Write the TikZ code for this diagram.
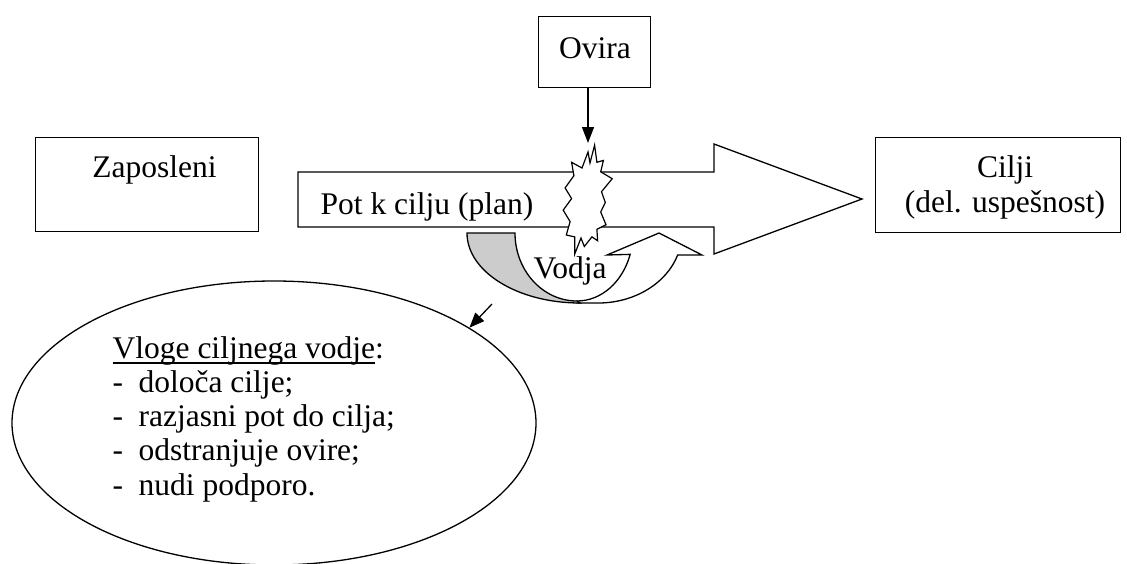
\documentclass[tikz,border=0pt]{standalone}
\usepackage{fontspec}
\setmainfont{Liberation Serif}
\usetikzlibrary{arrows.meta,shapes.geometric}
\definecolor{bandgrey}{RGB}{204,204,204}
% underline that runs through the descenders
\newcommand\roleul[1]{\leavevmode\setbox0\hbox{#1}\rlap{\rule[-5.5pt]{\wd0}{1.4pt}}\box0}
\begin{document}
\begin{tikzpicture}[x=1pt,y=1pt,
  line width=1.3pt,
  lbl/.style={font=\fontsize{31.5}{35}\selectfont, inner sep=0pt},
  box/.style={draw, inner sep=0pt, anchor=north west},
  arr/.style={-{Triangle[length=16pt,width=12pt]}},
]
\useasboundingbox (0,0) rectangle (1127,-563);

% boxes
\node[box, minimum width=223pt, minimum height=94pt] (zap) at (35,-137) {};
\node[lbl, anchor=base] (zaptxt) at (154.5,-177) {Zaposleni};

\node[box, minimum width=245pt, minimum height=95pt] (cilji) at (875,-137) {};
\node[lbl, anchor=base] (ciljitxt) at (1005,-177)
  {\parbox[t]{240pt}{\centering Cilji\\(del. uspešnost)}};

\node[box, minimum width=112pt, minimum height=71pt] (ovira) at (538,-16) {};
\node[lbl, anchor=base] (oviratxt) at (595,-58) {Ovira};

% the path towards the goal
\draw[fill=white, line join=miter] (298,-172) -- (714,-172) -- (714,-144) -- (862,-199)
  -- (714,-254) -- (714,-227) -- (298,-227) -- cycle;
\node[lbl, anchor=base west] (pottxt) at (320,-214) {Pot k cilju (plan)};

% obstacle burst
\draw[fill=white, line join=miter, line width=1.2pt]
  (594.6,-145.1) -- (596.9,-162.3) -- (603.4,-160.4) -- (600.7,-171.8)
  -- (612.2,-178.7) -- (601.5,-191.7) -- (605.3,-202.5) -- (600.7,-212)
  -- (606,-224.7) -- (596.9,-229.3) -- (597.6,-240.7) -- (591.9,-236.9)
  -- (584.3,-246.5) -- (581,-238) -- (574.7,-254.1) -- (574.7,-236.9)
  -- (566.3,-235) -- (570.1,-221.6) -- (563.2,-210.1) -- (571.6,-198.6)
  -- (565.1,-187.9) -- (573.9,-175.7) -- (571.6,-162.3) -- (582,-168)
  -- (588,-152) -- (590,-163) -- cycle;
\coordinate (burst) at (588,-143);
\draw[arr] (ovira.south -| burst) -- (burst);

% leader's curved arrow
\draw[fill=white, line join=miter]
  (577,-301) arc (270:341.7:56 and 68) -- (607,-255) -- (659,-233) -- (702,-255)
  -- (677.7,-255) arc (341.7:270:84 and 70) -- (577,-303) -- cycle;
\draw[fill=bandgrey]
  (467,-233) -- (515,-233) arc (180:270:62 and 68) -- (580,-303)
  arc (270:180:113 and 70) -- cycle;
\node[lbl, anchor=base] (vodja) at (570,-278) {Vodja};

% roles of the leader
\node[draw, ellipse, minimum width=524pt, minimum height=284pt, inner sep=0pt] (roles) at (274,-423) {};
\node[inner sep=0pt, anchor=base west, font=\fontsize{31.5}{34.25}\selectfont] (rolestxt) at (112,-358)
  {\parbox[t]{330pt}{\raggedright
   \roleul{Vloge ciljnega vodje}:\\
   \makebox[26pt][l]{-}določa cilje;\\
   \makebox[26pt][l]{-}razjasni pot do cilja;\\
   \makebox[26pt][l]{-}odstranjuje ovire;\\
   \makebox[26pt][l]{-}nudi podporo.}};

\coordinate (vodjatail) at (492,-304);
\draw[-{Triangle[length=15pt,width=12pt]}] (vodjatail) -- (roles.26.3);
\end{tikzpicture}
\end{document}
